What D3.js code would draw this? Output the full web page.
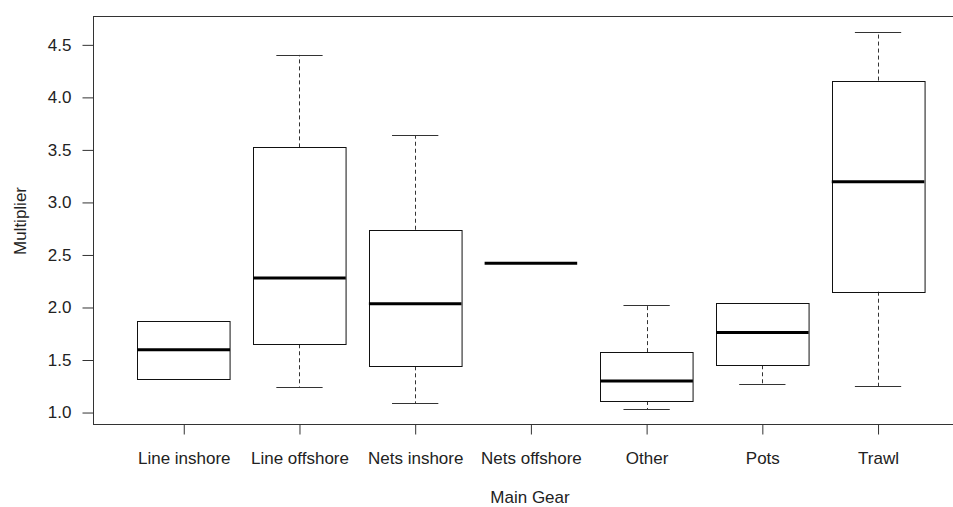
<!DOCTYPE html>
<html>
<head>
<meta charset="utf-8">
<script src="https://cdn.jsdelivr.net/npm/d3@7"></script>
<style>
  body { margin: 0; background: #fff; }
  text { font-family: 'Liberation Sans', Arial, sans-serif; fill: #222; }
</style>
</head>
<body>
<div id="chart"></div>
<script>
// gear categories and the five-number summaries
const gears = ['Line inshore', 'Line offshore', 'Nets inshore', 'Nets offshore', 'Other', 'Pots', 'Trawl']
const lowWhisker = [1.32, 1.245, 1.09, 2.42, 1.03, 1.27, 1.248]
const q1 = [1.32, 1.65, 1.44, 2.42, 1.11, 1.45, 2.15]
const median = [1.597, 2.28, 2.035, 2.42, 1.30, 1.762, 3.197]
const q3 = [1.873, 3.524, 2.74, 2.42, 1.575, 2.042, 4.16]
const highWhisker = [1.873, 4.404, 3.638, 2.42, 2.023, 2.042, 4.626]
const yTicks = [1.0, 1.5, 2.0, 2.5, 3.0, 3.5, 4.0, 4.5]

const width = 953
const height = 507
const margin = { top: 16.5, right: -15.3, bottom: 82.5, left: 93.5 }

const svg = d3.select('#chart')
  .append('svg')
  .attr('width', width)
  .attr('height', height)

const boxes = gears.map((g, i) => ({
  gear: g,
  idx: i + 1,
  lo: lowWhisker[i],
  q1: q1[i],
  med: median[i],
  q3: q3[i],
  hi: highWhisker[i]
}))

// R-style 4% extension of the ranges
const yMin = d3.min(lowWhisker)
const yMax = d3.max(highWhisker)
const yPad = (yMax - yMin) * 0.04
const xPad = (gears.length) * 0.04

const x = d3.scaleLinear()
  .domain([0.5 - xPad, gears.length + 0.5 + xPad])
  .range([margin.left, width - margin.right])

const y = d3.scaleLinear()
  .domain([yMin - yPad, yMax + yPad])
  .range([height - margin.bottom, margin.top])

const boxHalf = (x(1.4) - x(1)) // boxwex 0.8
const stapleHalf = boxHalf / 2

// frame
svg.append('rect')
  .attr('x', x.range()[0])
  .attr('y', y.range()[1])
  .attr('width', x.range()[1] - x.range()[0])
  .attr('height', y.range()[0] - y.range()[1])
  .attr('fill', 'none')
  .attr('stroke', '#333')
  .attr('stroke-width', 1)

const g = svg.selectAll('.box')
  .data(boxes)
  .enter()
  .append('g')
  .attr('class', 'box')

// whiskers
g.filter(d => d.hi > d.q3).append('line')
  .attr('x1', d => Math.round(x(d.idx)) + 0.5)
  .attr('x2', d => Math.round(x(d.idx)) + 0.5)
  .attr('y1', d => y(d.q3))
  .attr('y2', d => y(d.hi))
  .attr('stroke', '#333')
  .attr('stroke-dasharray', '4,3')

g.filter(d => d.lo < d.q1).append('line')
  .attr('x1', d => Math.round(x(d.idx)) + 0.5)
  .attr('x2', d => Math.round(x(d.idx)) + 0.5)
  .attr('y1', d => y(d.q1))
  .attr('y2', d => y(d.lo))
  .attr('stroke', '#333')
  .attr('stroke-dasharray', '4,3')

// staples
g.filter(d => d.hi > d.q3).append('line')
  .attr('x1', d => x(d.idx) - stapleHalf)
  .attr('x2', d => x(d.idx) + stapleHalf)
  .attr('y1', d => Math.round(y(d.hi)) + 0.5)
  .attr('y2', d => Math.round(y(d.hi)) + 0.5)
  .attr('stroke', '#333')

g.filter(d => d.lo < d.q1).append('line')
  .attr('x1', d => x(d.idx) - stapleHalf)
  .attr('x2', d => x(d.idx) + stapleHalf)
  .attr('y1', d => Math.round(y(d.lo)) + 0.5)
  .attr('y2', d => Math.round(y(d.lo)) + 0.5)
  .attr('stroke', '#333')

// boxes
g.filter(d => d.q3 > d.q1).append('rect')
  .attr('x', d => Math.round(x(d.idx) - boxHalf) + 0.5)
  .attr('y', d => Math.round(y(d.q3)) + 0.5)
  .attr('width', boxHalf * 2)
  .attr('height', d => Math.round(y(d.q1)) - Math.round(y(d.q3)))
  .attr('fill', 'none')
  .attr('stroke', '#111')

// medians
g.append('line')
  .attr('x1', d => x(d.idx) - boxHalf)
  .attr('x2', d => x(d.idx) + boxHalf)
  .attr('y1', d => y(d.med))
  .attr('y2', d => y(d.med))
  .attr('stroke', '#000')
  .attr('stroke-width', 3)

// y axis (only over the tick range, like R)
const yAxis = d3.axisLeft(y)
  .tickValues(yTicks)
  .tickFormat(d3.format('.1f'))
  .tickSize(11)
  .tickPadding(11)
  .tickSizeOuter(0)

svg.append('g')
  .attr('class', 'axis y-axis')
  .attr('transform', 'translate(' + x.range()[0] + ',0)')
  .call(yAxis)

svg.selectAll('.y-axis path').remove()
svg.selectAll('.y-axis line').attr('stroke', '#333')
svg.selectAll('.y-axis text')
  .attr('font-size', 17)
  .attr('font-family', "'Liberation Sans', Arial, sans-serif")
  .attr('fill', '#222')

// x axis
const xAxis = d3.axisBottom(x)
  .tickValues(d3.range(1, gears.length + 1))
  .tickFormat(i => gears[i - 1])
  .tickSize(10)
  .tickPadding(17)

svg.append('g')
  .attr('class', 'axis x-axis')
  .attr('transform', 'translate(0,' + y.range()[0] + ')')
  .call(xAxis)

svg.selectAll('.x-axis path').remove()
svg.selectAll('.x-axis line').attr('stroke', '#333')
svg.selectAll('.x-axis text')
  .attr('font-size', 17)
  .attr('font-family', "'Liberation Sans', Arial, sans-serif")
  .attr('fill', '#222')

// axis titles
svg.append('text')
  .attr('x', 530)
  .attr('y', 503)
  .attr('text-anchor', 'middle')
  .attr('font-size', 17)
  .text('Main Gear')

svg.append('text')
  .attr('transform', 'translate(26,221) rotate(-90)')
  .attr('text-anchor', 'middle')
  .attr('font-size', 17)
  .text('Multiplier')
</script>
</body>
</html>
